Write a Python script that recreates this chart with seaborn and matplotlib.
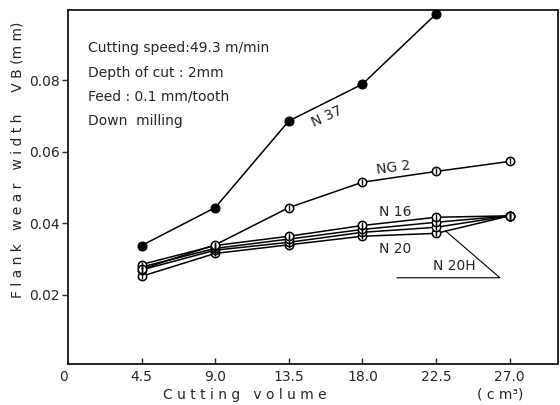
import numpy as np
import pandas as pd
import seaborn as sns
import matplotlib.pyplot as plt

volume = [4.5, 9.0, 13.5, 18.0, 22.5, 27.0]

n37 = [0.0338, 0.0444, 0.0686, 0.0789, 0.0985]
ng2 = [0.0272, 0.0340, 0.0444, 0.0515, 0.0545, 0.0573]
n16 = [0.0285, 0.0338, 0.0364, 0.0394, 0.0417, 0.0421]
n18 = [0.0278, 0.0330, 0.0356, 0.0383, 0.0403, 0.0421]
n20h = [0.0270, 0.0325, 0.0347, 0.0375, 0.0389, 0.0421]
n20 = [0.0252, 0.0316, 0.0340, 0.0364, 0.0372, 0.0421]

xticks = [4.5, 9.0, 13.5, 18.0, 22.5, 27.0]
yticks = [0.02, 0.04, 0.06, 0.08]

sns.set_style("ticks")
plt.rcParams['font.family'] = ['DejaVu Sans']

fig = plt.figure(figsize=(5.6, 4.05), dpi=100)
ax = fig.add_axes([0.1214, 0.1012, 0.8750, 0.8741])

lw = 1.1
# open "theta" markers
for vals in [n20, n20h, n18, n16, ng2]:
    xs = volume[:len(vals)]
    sns.lineplot(x=xs, y=vals, ax=ax, color="black", linewidth=lw, marker="o",
                 markersize=6, markerfacecolor="white", markeredgecolor="black",
                 markeredgewidth=1.1, estimator=None, sort=False)
    sns.scatterplot(x=xs, y=vals, ax=ax, marker="|", s=22, color="black",
                    linewidth=1.0, zorder=5)
# filled markers
sns.lineplot(x=volume[:len(n37)], y=n37, ax=ax, color="black", linewidth=lw, marker="o",
             markersize=6.5, markerfacecolor="black", markeredgecolor="black",
             estimator=None, sort=False)

ax.set_xlim(0, 29.95)
ax.set_ylim(0.0007, 0.0996)
ax.set_xticks(xticks)
ax.set_xticklabels([f"{v:.1f}" for v in xticks], fontsize=10)
ax.set_yticks(yticks)
ax.set_yticklabels([f"{v:.2f}" for v in yticks], fontsize=10)
ax.tick_params(axis="x", direction="in", length=4, width=1, pad=4)
ax.tick_params(axis="y", direction="out", length=4, width=1, pad=2)
for s in ax.spines.values():
    s.set_linewidth(1.2)
    s.set_color("black")
ax.set_xlabel("")
ax.set_ylabel("")

fig.text(63 / 560, 1 - 377 / 405, "0", fontsize=10, ha="center", va="center")
fig.text(245 / 560, 1 - 395 / 405, "C u t t i n g   v o l u m e", fontsize=10,
         ha="center", va="center")
fig.text(500 / 560, 1 - 395 / 405, "( c m³)", fontsize=10, ha="center", va="center")
fig.text(18 / 560, 1 - 160 / 405, "F l a n k   w e a r   w i d t h     V B (m m)",
         fontsize=10, rotation=90, ha="center", va="center")

info = ["Cutting speed:49.3 m/min", "Depth of cut : 2mm",
        "Feed : 0.1 mm/tooth", "Down  milling"]
for i, line in enumerate(info):
    fig.text(88 / 560, 1 - (48 + i * 24.5) / 405, line, fontsize=10, ha="left",
             va="center")

ax.text(15.8, 0.0697, "N 37", fontsize=10, rotation=25, ha="center", va="center")
ax.text(19.9, 0.0555, "NG 2", fontsize=10, rotation=8, ha="center", va="center")
ax.text(20.0, 0.0433, "N 16", fontsize=10, ha="center", va="center")
ax.text(20.0, 0.0329, "N 20", fontsize=10, ha="center", va="center")
ax.text(23.6, 0.0280, "N 20H", fontsize=10, ha="center", va="center")
ax.plot([20.1, 26.4, 23.1], [0.0248, 0.0248, 0.0378], color="black", linewidth=0.8)

fig.savefig("out.png", dpi=100)
